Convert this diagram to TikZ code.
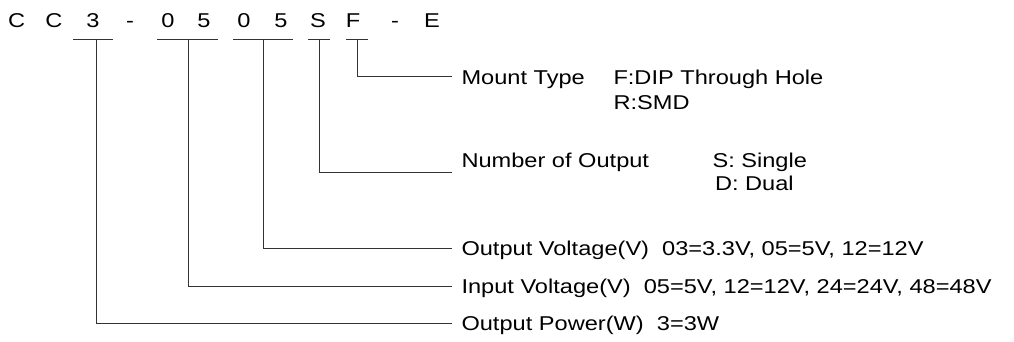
\documentclass[tikz,border=0pt]{standalone}
\usepackage{fontspec}
\setmainfont[FakeStretch=1.18]{Liberation Sans}
\usetikzlibrary{positioning}

\begin{document}
\begin{tikzpicture}[x=1pt, y=-1pt]
    \begin{scope}[line width=1pt,
        mycode/.style={inner sep=0pt, text height=14.4pt, text depth=0pt, font=\fontsize{20}{24}\selectfont},
        mylabel/.style={anchor=west, inner xsep=9pt, inner ysep=0pt, text height=14.4pt, text depth=0pt, font=\fontsize{20}{24}\selectfont},
        myopt/.style={anchor=base west, inner sep=0pt, align=left},
        mylink/.style={draw=black!80}]
    \useasboundingbox (0,0) rectangle (1014,342);
    % part number
    \foreach \ch/\x [count=\i] in {C/16.7, C/54, 3/93, -/130, 0/168, 5/204, 0/244, 5/281, S/318, F/353, -/395, E/432}
        \node[mycode] (c\i) at (\x,20.5) {\ch};
    \foreach \a/\b in {73/113, 157/218, 233/293, 308/330, 346/368}
        \draw[mylink] (\a,40) -- (\b,40);
    \coordinate (pw3) at (96,40);
    \coordinate (vin05) at (188,40);
    \coordinate (vout05) at (263,40);
    \coordinate (numS) at (319,40);
    \coordinate (mntF) at (357,40);
    % fields
    \node [mylabel] (mnt) at (452,77) {Mount Type};
    \node [myopt, font=\fontsize{20}{25.5}\selectfont] (mntopt) at (613,109.7) {F:DIP Through Hole\\R:SMD};
    \node [mylabel] (num) at (452,160) {Number of Output};
    \node [myopt, font=\fontsize{20}{23}\selectfont] (numopt) at (712,190.2) {S: Single\\\hspace*{2.5pt}D: Dual};
    \node [mylabel] (vout) at (452,248) {Output Voltage(V)\ \ 03=3.3V, 05=5V, 12=12V};
    \node [mylabel] (vin) at (452,286) {Input Voltage(V)\ \ 05=5V, 12=12V, 24=24V, 48=48V};
    \node [mylabel] (pw) at (452,323) {Output Power(W)\ \ 3=3W};
    % connectors
    \draw[mylink] (mntF) |- (mnt.west);
    \draw[mylink] (numS) |- ([yshift=-12pt]num.west);
    \draw[mylink] (vout05) |- (vout.west);
    \draw[mylink] (vin05) |- (vin.west);
    \draw[mylink] (pw3) |- (pw.west);
    \end{scope}
\end{tikzpicture}
\end{document}
